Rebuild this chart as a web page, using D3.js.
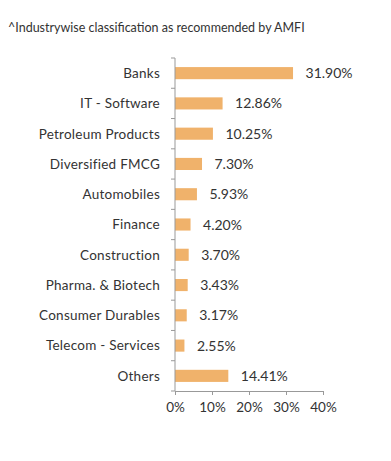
<!DOCTYPE html>
<html><head><meta charset="utf-8">
<script src="https://cdn.jsdelivr.net/npm/d3@7"></script>
<style>body{margin:0;background:#fff}svg{display:block}text{font-family:Lato,"Open Sans",sans-serif}</style>
</head><body><svg id="c" width="391" height="461"></svg>
<script>
const categories = ["Banks","IT - Software","Petroleum Products","Diversified FMCG","Automobiles","Finance","Construction","Pharma. & Biotech","Consumer Durables","Telecom - Services","Others"];
const values = [31.90,12.86,10.25,7.30,5.93,4.20,3.70,3.43,3.17,2.55,14.41];
const xTicks = [0,10,20,30,40];
const title = "^Industrywise classification as recommended by AMFI";

const svg = d3.select("#c");
const x = d3.scaleLinear().domain([0,40]).range([175,323]);
const y = d3.scaleBand().domain(categories).range([58,391]).paddingInner(0.6).paddingOuter(0.3);

svg.append("text").attr("x",8).attr("y",32).attr("font-size",12.5).attr("fill","#333").text(title);

svg.selectAll("rect.bar").data(values).join("rect").attr("class","bar")
  .attr("x",x(0)).attr("y",(d,i)=>y(categories[i]))
  .attr("width",d=>x(d)-x(0)).attr("height",y.bandwidth()).attr("fill","#F0B26B");

svg.selectAll("text.val").data(values).join("text").attr("class","val")
  .attr("x",d=>x(d)+12.5).attr("y",(d,i)=>y(categories[i])+y.bandwidth()/2).attr("dy","0.36em")
  .attr("font-size",14).attr("fill","#333").text(d=>d.toFixed(2)+"%");

// left axis
const yAxisBand = d3.scaleBand().domain(categories).range([58,391]);
const ly = svg.append("g");
ly.append("line").attr("x1",175).attr("x2",175).attr("y1",58).attr("y2",391).attr("stroke","#999");
const bounds = d3.range(categories.length+1).map(i=>58+i*yAxisBand.step());
ly.selectAll("line.t").data(bounds).join("line").attr("class","t")
  .attr("x1",171).attr("x2",175).attr("y1",d=>d).attr("y2",d=>d).attr("stroke","#999");
ly.selectAll("text").data(categories).join("text")
  .attr("x",160).attr("y",d=>yAxisBand(d)+yAxisBand.bandwidth()/2).attr("dy","0.36em")
  .attr("text-anchor","end").attr("font-size",13.5).attr("letter-spacing","0.25px").attr("fill","#333").text(d=>d);

// bottom axis
const bx = svg.append("g").attr("transform","translate(0,391)")
  .call(d3.axisBottom(x).tickValues(xTicks).tickFormat(d=>d+"%").tickSizeOuter(0).tickSize(4));
bx.select(".domain").attr("stroke","#999");
bx.selectAll(".tick line").attr("stroke","#999");
bx.selectAll(".tick text").attr("font-size",13.5).attr("fill","#333").attr("font-family","Lato,sans-serif").attr("dy","1.05em");
</script></body></html>
